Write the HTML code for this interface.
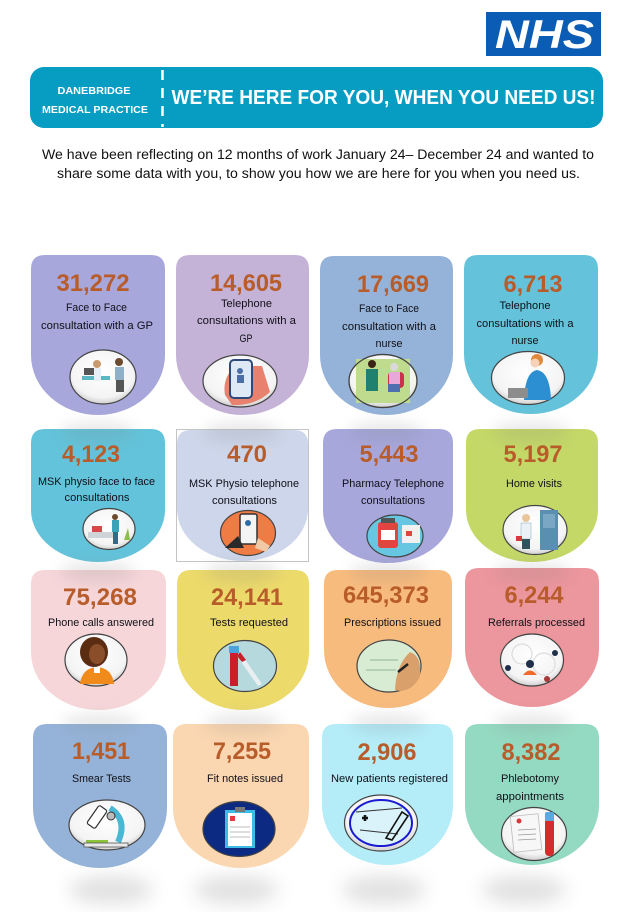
<!DOCTYPE html>
<html>
<head>
<meta charset="utf-8">
<style>
html,body{margin:0;padding:0;background:#fff;}
#wrap{width:643px;height:912px;overflow:hidden;position:relative;background:#fff;}
svg{display:block;}
.num{font-family:"Liberation Sans",Arial,sans-serif;font-weight:bold;font-size:24px;fill:#b85c2a;}
.lbl{font-family:"Liberation Sans",Arial,sans-serif;font-size:11.3px;fill:#101018;}
</style>
</head>
<body>
<div id="wrap">
<svg width="643" height="912" viewBox="0 0 643 912" xmlns="http://www.w3.org/2000/svg">
<defs>
  <filter id="blur" x="-60%" y="-100%" width="220%" height="300%"><feGaussianBlur stdDeviation="7"/></filter>
  <filter id="blur2" x="-80%" y="-150%" width="260%" height="400%"><feGaussianBlur stdDeviation="9"/></filter>
  <radialGradient id="gl" cx="50%" cy="40%" r="60%">
    <stop offset="0%" stop-color="#ffffff"/>
    <stop offset="80%" stop-color="#f4f4f4"/>
    <stop offset="100%" stop-color="#cfcfcf"/>
  </radialGradient>
</defs>

<!-- NHS logo -->
<rect x="486" y="12" width="115" height="44" fill="#0a5cb5"/>
<text x="495" y="48" font-family="Liberation Sans,Arial,sans-serif" font-weight="bold" font-style="italic" font-size="40" fill="#fff" textLength="99" lengthAdjust="spacingAndGlyphs">NHS</text>

<!-- Banner -->
<rect x="30" y="67" width="573" height="61" rx="14" ry="14" fill="#079dc2"/>
<line x1="162.5" y1="70" x2="162.5" y2="127" stroke="#fff" stroke-width="2.5" stroke-dasharray="10,8"/>
<text x="94" y="94" text-anchor="middle" font-family="Liberation Sans,Arial,sans-serif" font-weight="bold" font-size="10.5" fill="#fff" textLength="73" lengthAdjust="spacingAndGlyphs">DANEBRIDGE</text>
<text x="95" y="113" text-anchor="middle" font-family="Liberation Sans,Arial,sans-serif" font-weight="bold" font-size="10.5" fill="#fff" textLength="106" lengthAdjust="spacingAndGlyphs">MEDICAL PRACTICE</text>
<text x="171.5" y="104" font-family="Liberation Sans,Arial,sans-serif" font-weight="bold" font-size="20.5" fill="#fff" textLength="424" lengthAdjust="spacingAndGlyphs">WE’RE HERE FOR YOU, WHEN YOU NEED US!</text>

<!-- Intro text -->
<text x="42" y="159" font-family="Liberation Sans,Arial,sans-serif" font-size="13.5" fill="#111" textLength="552" lengthAdjust="spacingAndGlyphs">We have been reflecting on 12 months of work January 24– December 24 and wanted to</text>
<text x="57" y="178" font-family="Liberation Sans,Arial,sans-serif" font-size="13.5" fill="#111" textLength="523" lengthAdjust="spacingAndGlyphs">share some data with you, to show you how we are here for you when you need us.</text>

<!-- Row 4 shadows (visible on white) -->
<g filter="url(#blur2)" fill="#a0a0a0" opacity="0.32">
  <ellipse cx="111" cy="890" rx="42" ry="14"/>
  <ellipse cx="236" cy="890" rx="42" ry="14"/>
  <ellipse cx="384" cy="890" rx="42" ry="14"/>
  <ellipse cx="524" cy="890" rx="42" ry="14"/>
</g>

<!-- Row 1 cards -->
<path d="M31,269 Q31,255 45,255 H151 Q165,255 165,269 V355 A67,60 0 0 1 31,355 Z" fill="#a7a7dc"/>
<path d="M176,269 Q176,255 190,255 H295 Q309,255 309,269 V355 A66.5,60 0 0 1 176,355 Z" fill="#c4b2d7"/>
<path d="M320,270 Q320,256 334,256 H439 Q453,256 453,270 V355 A66.5,60 0 0 1 320,355 Z" fill="#95b3d8"/>
<path d="M464,269 Q464,255 478,255 H584 Q598,255 598,269 V354 A67,60 0 0 1 464,354 Z" fill="#64c3da"/>

<!-- Row 2 cards -->
<path d="M31,443 Q31,429 45,429 H151 Q165,429 165,443 V510 A67,52 0 0 1 31,510 Z" fill="#63c3da"/>
<rect x="176.5" y="429.5" width="132" height="132" fill="#fff" stroke="#c4c4c4" stroke-width="1"/>
<path d="M177,444 Q177,430 191,430 H294 Q308,430 308,444 V509 A65.5,52 0 0 1 177,509 Z" fill="#cdd6ea"/>
<path d="M323,443 Q323,429 337,429 H439 Q453,429 453,443 V511 A65,52 0 0 1 323,511 Z" fill="#a7a7dc"/>
<path d="M466,443 Q466,429 480,429 H584 Q598,429 598,443 V510 A66,52 0 0 1 466,510 Z" fill="#c4d868"/>

<!-- Row 3 cards -->
<path d="M31,584 Q31,570 45,570 H152 Q166,570 166,584 V652 A67.5,58 0 0 1 31,652 Z" fill="#f6d6d9"/>
<path d="M177,584 Q177,570 191,570 H295 Q309,570 309,584 V652 A66,58 0 0 1 177,652 Z" fill="#ecda6b"/>
<path d="M324,584 Q324,570 338,570 H438 Q452,570 452,584 V650 A64,58 0 0 1 324,650 Z" fill="#f8bb7e"/>
<path d="M465,582 Q465,568 479,568 H585 Q599,568 599,582 V649 A67,58 0 0 1 465,649 Z" fill="#ec969d"/>

<!-- Row 4 cards -->
<path d="M33,738 Q33,724 47,724 H153 Q167,724 167,738 V808 A67,60 0 0 1 33,808 Z" fill="#95b3d8"/>
<path d="M173,738 Q173,724 187,724 H295 Q309,724 309,738 V808 A68,60 0 0 1 173,808 Z" fill="#fad6b1"/>
<path d="M322,738 Q322,724 336,724 H439 Q453,724 453,738 V805 A65.5,60 0 0 1 322,805 Z" fill="#b4ecf8"/>
<path d="M465,738 Q465,724 479,724 H585 Q599,724 599,738 V805 A67,60 0 0 1 465,805 Z" fill="#94d9c1"/>

<!-- Overlay shadows from rows 1-3 onto next rows -->
<g filter="url(#blur)" fill="#808080" opacity="0.18">
  <ellipse cx="98" cy="432" rx="38" ry="10"/>
  <ellipse cx="242" cy="432" rx="38" ry="10"/>
  <ellipse cx="386" cy="432" rx="38" ry="10"/>
  <ellipse cx="531" cy="432" rx="38" ry="10"/>
  <ellipse cx="98" cy="572" rx="38" ry="10"/>
  <ellipse cx="242" cy="572" rx="38" ry="10"/>
  <ellipse cx="388" cy="572" rx="38" ry="10"/>
  <ellipse cx="532" cy="572" rx="38" ry="10"/>
  <ellipse cx="100" cy="723" rx="38" ry="9"/>
  <ellipse cx="243" cy="723" rx="38" ry="9"/>
  <ellipse cx="388" cy="723" rx="38" ry="9"/>
  <ellipse cx="532" cy="723" rx="38" ry="9"/>
</g>

<!-- Numbers -->
<text class="num" x="93" y="291" text-anchor="middle" textLength="73" lengthAdjust="spacingAndGlyphs">31,272</text>
<text class="num" x="246" y="291" text-anchor="middle" textLength="72" lengthAdjust="spacingAndGlyphs">14,605</text>
<text class="num" x="393" y="292" text-anchor="middle" textLength="72" lengthAdjust="spacingAndGlyphs">17,669</text>
<text class="num" x="533" y="292" text-anchor="middle" textLength="59" lengthAdjust="spacingAndGlyphs">6,713</text>

<text class="num" x="91" y="462" text-anchor="middle" textLength="58" lengthAdjust="spacingAndGlyphs">4,123</text>
<text class="num" x="247" y="462" text-anchor="middle" textLength="40" lengthAdjust="spacingAndGlyphs">470</text>
<text class="num" x="389" y="462" text-anchor="middle" textLength="59" lengthAdjust="spacingAndGlyphs">5,443</text>
<text class="num" x="533" y="462" text-anchor="middle" textLength="59" lengthAdjust="spacingAndGlyphs">5,197</text>

<text class="num" x="100" y="605" text-anchor="middle" textLength="74" lengthAdjust="spacingAndGlyphs">75,268</text>
<text class="num" x="247" y="605" text-anchor="middle" textLength="72" lengthAdjust="spacingAndGlyphs">24,141</text>
<text class="num" x="386" y="603" text-anchor="middle" textLength="86" lengthAdjust="spacingAndGlyphs">645,373</text>
<text class="num" x="534" y="603" text-anchor="middle" textLength="59" lengthAdjust="spacingAndGlyphs">6,244</text>

<text class="num" x="101" y="759" text-anchor="middle" textLength="58" lengthAdjust="spacingAndGlyphs">1,451</text>
<text class="num" x="242" y="759" text-anchor="middle" textLength="58" lengthAdjust="spacingAndGlyphs">7,255</text>
<text class="num" x="387" y="760" text-anchor="middle" textLength="59" lengthAdjust="spacingAndGlyphs">2,906</text>
<text class="num" x="531" y="760" text-anchor="middle" textLength="59" lengthAdjust="spacingAndGlyphs">8,382</text>

<!-- Labels -->
<text class="lbl" x="96.5" y="311" text-anchor="middle" textLength="61" lengthAdjust="spacingAndGlyphs">Face to Face</text>
<text class="lbl" x="97" y="329" text-anchor="middle" textLength="112" lengthAdjust="spacingAndGlyphs">consultation with a GP</text>

<text class="lbl" x="246.5" y="307" text-anchor="middle" textLength="51" lengthAdjust="spacingAndGlyphs">Telephone</text>
<text class="lbl" x="246.5" y="324" text-anchor="middle" textLength="99" lengthAdjust="spacingAndGlyphs">consultations with a</text>
<text class="lbl" x="246" y="342" text-anchor="middle" textLength="13" lengthAdjust="spacingAndGlyphs">GP</text>

<text class="lbl" x="389" y="312" text-anchor="middle" textLength="60" lengthAdjust="spacingAndGlyphs">Face to Face</text>
<text class="lbl" x="389" y="330" text-anchor="middle" textLength="94" lengthAdjust="spacingAndGlyphs">consultation with a</text>
<text class="lbl" x="389" y="347" text-anchor="middle" textLength="27" lengthAdjust="spacingAndGlyphs">nurse</text>

<text class="lbl" x="525" y="309" text-anchor="middle" textLength="51" lengthAdjust="spacingAndGlyphs">Telephone</text>
<text class="lbl" x="525" y="327" text-anchor="middle" textLength="97" lengthAdjust="spacingAndGlyphs">consultations with a</text>
<text class="lbl" x="525" y="344" text-anchor="middle" textLength="27" lengthAdjust="spacingAndGlyphs">nurse</text>

<text class="lbl" x="96.5" y="485" text-anchor="middle" textLength="117" lengthAdjust="spacingAndGlyphs">MSK physio face to face</text>
<text class="lbl" x="97" y="501" text-anchor="middle" textLength="65" lengthAdjust="spacingAndGlyphs">consultations</text>

<text class="lbl" x="244" y="487" text-anchor="middle" textLength="110" lengthAdjust="spacingAndGlyphs">MSK Physio telephone</text>
<text class="lbl" x="244.5" y="504" text-anchor="middle" textLength="65" lengthAdjust="spacingAndGlyphs">consultations</text>

<text class="lbl" x="393" y="487" text-anchor="middle" textLength="102" lengthAdjust="spacingAndGlyphs">Pharmacy Telephone</text>
<text class="lbl" x="393" y="504" text-anchor="middle" textLength="64" lengthAdjust="spacingAndGlyphs">consultations</text>

<text class="lbl" x="534" y="487" text-anchor="middle" textLength="56" lengthAdjust="spacingAndGlyphs">Home visits</text>

<text class="lbl" x="101" y="626" text-anchor="middle" textLength="106" lengthAdjust="spacingAndGlyphs">Phone calls answered</text>
<text class="lbl" x="249" y="626" text-anchor="middle" textLength="78" lengthAdjust="spacingAndGlyphs">Tests requested</text>
<text class="lbl" x="392.5" y="626" text-anchor="middle" textLength="97" lengthAdjust="spacingAndGlyphs">Prescriptions issued</text>
<text class="lbl" x="536.5" y="626" text-anchor="middle" textLength="97" lengthAdjust="spacingAndGlyphs">Referrals processed</text>

<text class="lbl" x="101.5" y="782" text-anchor="middle" textLength="59" lengthAdjust="spacingAndGlyphs">Smear Tests</text>
<text class="lbl" x="245" y="782" text-anchor="middle" textLength="76" lengthAdjust="spacingAndGlyphs">Fit notes issued</text>
<text class="lbl" x="389.5" y="782" text-anchor="middle" textLength="117" lengthAdjust="spacingAndGlyphs">New patients registered</text>
<text class="lbl" x="530" y="782" text-anchor="middle" textLength="58" lengthAdjust="spacingAndGlyphs">Phlebotomy</text>
<text class="lbl" x="530" y="800" text-anchor="middle" textLength="68" lengthAdjust="spacingAndGlyphs">appointments</text>

<!-- Image ellipses -->
<!-- R1C1 GP consult -->
<ellipse cx="103" cy="377" rx="33" ry="27" fill="url(#gl)" stroke="#444" stroke-width="1.2"/>
<rect x="82" y="376" width="28" height="4" fill="#5bb7c4"/>
<rect x="84" y="368" width="10" height="7" fill="#555"/>
<circle cx="97" cy="364" r="4" fill="#c99a6e"/>
<rect x="94" y="368" width="7" height="13" fill="#e8eef5"/>
<circle cx="119" cy="362" r="4" fill="#6b4a2e"/>
<rect x="115" y="367" width="9" height="13" fill="#8fb0c9"/>
<rect x="116" y="380" width="8" height="12" fill="#555"/>

<!-- R1C2 phone -->
<ellipse cx="240" cy="381" rx="37" ry="26" fill="url(#gl)" stroke="#444" stroke-width="1.2"/>
<path d="M225,395 Q222,378 235,366 L262,366 L270,392 Q255,406 232,405 Z" fill="#e8826e"/>
<rect x="230" y="360" width="22" height="38" rx="4" fill="#dfe9f5" stroke="#2e4a7a" stroke-width="2"/>
<circle cx="240" cy="371" r="3" fill="#4a6fa5"/>
<rect x="237" y="375" width="7" height="8" fill="#4a6fa5"/>

<!-- R1C3 nurse & patient -->
<ellipse cx="383" cy="381" rx="34" ry="26.5" fill="url(#gl)" stroke="#444" stroke-width="1.2"/>
<rect x="356" y="359" width="54" height="44" fill="#bfdc8e"/>
<circle cx="372" cy="364" r="4" fill="#3a2418"/>
<rect x="366" y="369" width="12" height="22" fill="#1f8070"/>
<rect x="388" y="372" width="16" height="16" rx="4" fill="#c9304a"/>
<circle cx="394" cy="367" r="4" fill="#d9d9d9"/>
<rect x="389" y="372" width="11" height="12" fill="#e7a9d8"/>
<rect x="388" y="384" width="12" height="8" fill="#4d6fb0"/>
<ellipse cx="383" cy="381" rx="34" ry="26.5" fill="none" stroke="#444" stroke-width="1.2"/>

<!-- R1C4 telephone nurse -->
<ellipse cx="528" cy="378" rx="36.5" ry="26.5" fill="url(#gl)" stroke="#444" stroke-width="1.2"/>
<circle cx="537" cy="360" r="6" fill="#e0893c"/>
<circle cx="535" cy="363" r="4.5" fill="#f6d2b8"/>
<path d="M524,400 Q525,372 537,370 Q550,372 551,400 Z" fill="#2c8fd2"/>
<rect x="508" y="388" width="20" height="10" fill="#8d8d8d"/>

<!-- R2C1 MSK -->
<ellipse cx="109" cy="529" rx="26" ry="20.5" fill="url(#gl)" stroke="#444" stroke-width="1.2"/>
<rect x="88" y="532" width="26" height="6" fill="#cfd4d8"/>
<rect x="92" y="526" width="10" height="6" fill="#d24a4a"/>
<circle cx="115" cy="517" r="3" fill="#6b4a2e"/>
<rect x="112" y="520" width="7" height="12" fill="#3aa5b8"/>
<rect x="113" y="532" width="5" height="12" fill="#2f6d85"/>
<path d="M124,540 L128,528 L130,540 Z" fill="#8cc04a"/>

<!-- R2C2 telephone physio (orange) -->
<ellipse cx="248" cy="533" rx="27.5" ry="22.5" fill="#ef7b45" stroke="#444" stroke-width="1.2"/>
<rect x="240" y="514" width="17" height="30" rx="2" fill="#f4f4f4" stroke="#333" stroke-width="1.5"/>
<circle cx="248" cy="523" r="3" fill="#2d6aa8"/>
<path d="M225,548 L238,536 L244,548 Z" fill="#2a2a2a"/>
<path d="M258,538 L270,546 L266,552 L255,548 Z" fill="#f2c9a5"/>

<!-- R2C3 pharmacy -->
<ellipse cx="395" cy="536" rx="28" ry="21" fill="#67c6e2" stroke="#444" stroke-width="1.2"/>
<rect x="378" y="522" width="20" height="26" rx="3" fill="#e24440"/>
<rect x="381" y="518" width="14" height="5" fill="#555"/>
<rect x="381" y="530" width="14" height="10" fill="#fff"/>
<rect x="402" y="525" width="18" height="18" fill="#f1f1f1"/>
<rect x="406" y="531" width="6" height="5" fill="#e24440"/>

<!-- R2C4 home visit -->
<ellipse cx="535" cy="530" rx="32" ry="24.5" fill="url(#gl)" stroke="#444" stroke-width="1.2"/>
<rect x="540" y="510" width="18" height="40" fill="#5b8fb2"/>
<rect x="543" y="514" width="12" height="14" fill="#7aa7c4"/>
<circle cx="526" cy="518" r="4" fill="#e9c59c"/>
<rect x="521" y="523" width="10" height="16" fill="#eaf2f8" stroke="#8ab" stroke-width="0.5"/>
<rect x="522" y="539" width="8" height="10" fill="#33505f"/>
<rect x="516" y="536" width="6" height="5" fill="#d43a3a"/>

<!-- R3C1 phone calls -->
<ellipse cx="96" cy="660" rx="31" ry="26" fill="url(#gl)" stroke="#444" stroke-width="1.2"/>
<ellipse cx="94" cy="652" rx="14" ry="15" fill="#5a2d12"/>
<ellipse cx="97" cy="654" rx="8" ry="10" fill="#8a4e2a"/>
<path d="M80,684 Q82,668 97,667 Q112,668 114,684 Z" fill="#f08a1a"/>
<rect x="94" y="667" width="6" height="6" fill="#fff"/>

<!-- R3C2 tests -->
<ellipse cx="245" cy="666" rx="31.5" ry="25.5" fill="#b5d9dd" stroke="#444" stroke-width="1.2"/>
<rect x="230" y="652" width="8" height="34" fill="#c81f2a"/>
<rect x="229" y="646" width="10" height="7" fill="#4aa3d9"/>
<path d="M240,652 L262,684 L258,686 L237,656 Z" fill="#e9eef2"/>
<path d="M240,652 L246,660 L242,662 L237,656 Z" fill="#c81f2a"/>

<!-- R3C3 prescriptions -->
<ellipse cx="389" cy="666" rx="32" ry="26" fill="#d8ecd4" stroke="#444" stroke-width="1.2"/>
<path d="M395,690 Q396,665 410,652 Q422,656 420,676 Q414,690 400,691 Z" fill="#d9a06b"/>
<line x1="370" y1="660" x2="398" y2="660" stroke="#8fb596" stroke-width="1"/>
<line x1="366" y1="670" x2="396" y2="670" stroke="#8fb596" stroke-width="1"/>
<line x1="398" y1="672" x2="408" y2="664" stroke="#222" stroke-width="2.5"/>

<!-- R3C4 referrals -->
<ellipse cx="532" cy="660" rx="31.5" ry="26" fill="url(#gl)" stroke="#444" stroke-width="1.2"/>
<circle cx="522" cy="654" r="10" fill="none" stroke="#ddd" stroke-width="1.2"/>
<circle cx="544" cy="664" r="11" fill="none" stroke="#ddd" stroke-width="1.2"/>
<circle cx="530" cy="664" r="4" fill="#1f2f4a"/>
<path d="M523,675 Q530,666 537,675 Z" fill="#f06a2a"/>
<circle cx="555" cy="653" r="3" fill="#1f2f4a"/>
<circle cx="508" cy="668" r="3" fill="#1f2f4a"/>
<circle cx="547" cy="679" r="3" fill="#a63a3a"/>

<!-- R4C1 microscope -->
<ellipse cx="107" cy="825" rx="38" ry="25" fill="url(#gl)" stroke="#444" stroke-width="1.2"/>
<path d="M110,808 Q128,820 118,842" fill="none" stroke="#48b8d5" stroke-width="6"/>
<rect x="92" y="806" width="10" height="22" rx="2" transform="rotate(35 97 817)" fill="#fff" stroke="#333" stroke-width="1.2"/>
<circle cx="111" cy="816" r="4" fill="#bbb" stroke="#333" stroke-width="1"/>
<rect x="86" y="840" width="22" height="3" fill="#8cc43a"/>
<rect x="84" y="843" width="44" height="4" fill="#e9e9e9" stroke="#555" stroke-width="0.8"/>

<!-- R4C2 fit notes -->
<ellipse cx="239" cy="829" rx="36" ry="27.5" fill="#0d2a82" stroke="#444" stroke-width="1.2"/>
<rect x="225" y="810" width="30" height="38" fill="#3dbde6"/>
<rect x="228" y="813" width="24" height="33" fill="#ffffff"/>
<rect x="235" y="807" width="10" height="5" fill="#777"/>
<rect x="230" y="816" width="5" height="5" fill="#e23b3b"/>
<line x1="230" y1="827" x2="250" y2="827" stroke="#bbb" stroke-width="1"/>
<line x1="230" y1="832" x2="250" y2="832" stroke="#bbb" stroke-width="1"/>
<line x1="230" y1="837" x2="250" y2="837" stroke="#bbb" stroke-width="1"/>

<!-- R4C3 registration -->
<ellipse cx="381" cy="823" rx="36.5" ry="28" fill="url(#gl)" stroke="#444" stroke-width="1.2"/>
<ellipse cx="381" cy="823" rx="31" ry="23" fill="#daf2fa" stroke="#1a1ad2" stroke-width="2"/>
<line x1="356" y1="812" x2="402" y2="808" stroke="#333" stroke-width="1"/>
<line x1="360" y1="830" x2="398" y2="834" stroke="#333" stroke-width="1"/>
<path d="M362,818 h6 M365,815 v6" stroke="#111" stroke-width="2.5"/>
<path d="M386,838 L402,812 L408,816 L392,840 Z" fill="none" stroke="#111" stroke-width="1.6"/>

<!-- R4C4 phlebotomy -->
<ellipse cx="534" cy="834" rx="32.5" ry="26.5" fill="url(#gl)" stroke="#444" stroke-width="1.2"/>
<rect x="512" y="815" width="28" height="36" fill="#f7f7f7" stroke="#bbb" stroke-width="0.8" transform="rotate(-6 526 833)"/>
<circle cx="519" cy="821" r="2.5" fill="#d63a3a"/>
<line x1="518" y1="830" x2="536" y2="829" stroke="#999" stroke-width="0.8"/>
<line x1="518" y1="835" x2="536" y2="834" stroke="#999" stroke-width="0.8"/>
<line x1="518" y1="840" x2="536" y2="839" stroke="#999" stroke-width="0.8"/>
<rect x="545" y="818" width="9" height="38" rx="4" fill="#d52b2b"/>
<rect x="545" y="812" width="9" height="9" rx="2" fill="#5aa9e0"/>
</svg>
</div>
</body>
</html>
